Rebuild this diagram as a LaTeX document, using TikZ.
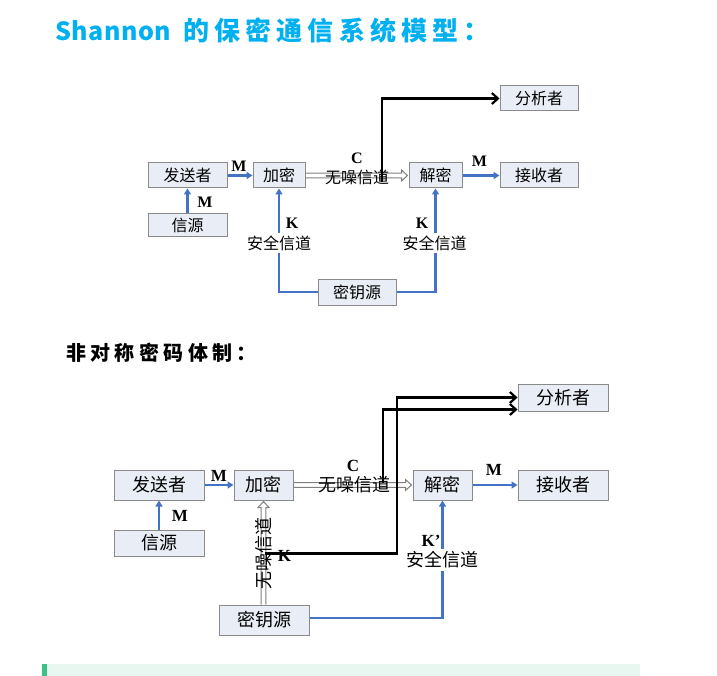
\documentclass[tikz,border=0pt]{standalone}
\usepackage{fontspec}
\setmainfont{Liberation Serif}
\newfontfamily\cjk{Noto Sans CJK SC}
\usetikzlibrary{arrows.meta,calc}
\definecolor{kblue}{HTML}{4472C4}
\definecolor{boxfill}{HTML}{E9EEF6}
\definecolor{boxdraw}{HTML}{8A8A8A}
\definecolor{titleblue}{HTML}{00B0F0}
\definecolor{chancol}{HTML}{808080}
\definecolor{barfill}{HTML}{E9F7F1}
\definecolor{bargreen}{HTML}{3CC08A}
\newcommand\hchan[2]{%
  \draw[chanline] ([yshift=2.4pt]#1.east) -- ([xshift=-7pt,yshift=2.4pt]#2.west) -- ([xshift=-7pt,yshift=5.5pt]#2.west) -- ([xshift=-1pt]#2.west) -- ([xshift=-7pt,yshift=-5.5pt]#2.west) -- ([xshift=-7pt,yshift=-2.4pt]#2.west) -- ([yshift=-2.4pt]#1.east);}
\begin{document}
\begin{tikzpicture}[x=1pt,y=-1pt,
  boxa/.style={draw=boxdraw, fill=boxfill, line width=1pt, inner sep=0pt, font=\cjk\fontsize{16}{16}\selectfont},
  boxb/.style={boxa, font=\cjk\fontsize{18}{18}\selectfont},
  blu/.style={draw=kblue, line width=2.2pt, -{Triangle[length=6pt,width=7pt]}},
  blk/.style={draw=black, line width=2.2pt, -{Straight Barb[length=6pt,width=11pt]}},
  chanline/.style={draw=chancol, line width=1pt},
  lbla/.style={font=\bfseries\fontsize{16}{16}\selectfont, inner sep=0pt},
  lblb/.style={font=\bfseries\fontsize{17}{17}\selectfont, inner sep=0pt},
  cna/.style={font=\cjk\fontsize{16}{16}\selectfont, inner sep=1pt},
  cnb/.style={font=\cjk\fontsize{18}{18}\selectfont, inner sep=1pt},
]
\useasboundingbox (0,0) rectangle (717,676);

% headings
\node[anchor=west, inner sep=0pt, text=titleblue, font=\cjk\bfseries\fontsize{25}{25}\selectfont\addfontfeature{LetterSpace=2}] (title1) at (55,31) {Shannon};
\node[anchor=west, inner sep=0pt, text=titleblue, font=\cjk\bfseries\fontsize{26}{26}\selectfont\addfontfeature{LetterSpace=20}] (title2) at (183,31) {的保密通信系统模型：};
\node[anchor=west, inner sep=0pt, font=\cjk\bfseries\fontsize{20}{20}\selectfont\addfontfeature{LetterSpace=22}] (head2) at (66,353) {非对称密码体制：};

% ===== top diagram =====
\node[boxa, minimum width=79, minimum height=25] (snd1) at (187.5,175.5) {发送者};
\node[boxa, minimum width=79, minimum height=23] (src1) at (187.5,225.5) {信源};
\node[boxa, minimum width=52, minimum height=25] (enc1) at (279,175.5) {加密};
\node[boxa, minimum width=53, minimum height=25] (dec1) at (435.5,175.5) {解密};
\node[boxa, minimum width=78, minimum height=25] (rcv1) at (539,175.5) {接收者};
\node[boxa, minimum width=78, minimum height=25] (ana1) at (539,98.5) {分析者};
\node[boxa, minimum width=78, minimum height=26] (key1) at (357,292) {密钥源};

\draw[blu] (snd1) -- (enc1);
\draw[blu] (src1) -- (snd1);
\draw[blu] (dec1) -- (rcv1);
\draw[blu] (key1.west) -| (enc1.south);
\draw[blu] (key1.east) -| (dec1.south);
\hchan{enc1}{dec1}
\node[lbla] (m1a) at (239,166) {M};
\node[lbla] (m1b) at (205,202.5) {M};
\node[lbla] (m1c) at (479.5,161.5) {M};
\node[lbla] (c1) at (357,158) {C};
\node[cna] (ch1) at (357,177) {无噪信道};
\node[lbla] (k1a) at (292,223.5) {K};
\node[lbla] (k1b) at (422,223.5) {K};
\node[cna, fill=white, inner ysep=3pt] (s1a) at (279,243) {安全信道};
\node[cna, fill=white, inner ysep=3pt] (s1b) at (434.5,243) {安全信道};
\coordinate (t1) at (382,182);
\draw[blk] (t1) |- (ana1.west);

% ===== bottom diagram =====
\node[boxb, minimum width=90, minimum height=30] (snd2) at (159,485) {发送者};
\node[boxb, minimum width=90, minimum height=26] (src2) at (159,543) {信源};
\node[boxb, minimum width=59, minimum height=30] (enc2) at (263.5,485) {加密};
\node[boxb, minimum width=59, minimum height=30] (dec2) at (442.5,485) {解密};
\node[boxb, minimum width=90, minimum height=30] (rcv2) at (563,485) {接收者};
\node[boxb, minimum width=90, minimum height=27] (ana2) at (563,397.5) {分析者};
\node[boxb, minimum width=90, minimum height=30] (key2) at (264,620) {密钥源};

\draw[blu] (snd2) -- (enc2);
\draw[blu] (src2) -- (snd2);
\draw[blu] (dec2) -- (rcv2);
\draw[blu] ([yshift=2pt]key2.east) -| (dec2.south);
\hchan{enc2}{dec2}
\draw[chanline] ([xshift=-2.4pt]enc2.south |- key2.north) -- ([xshift=-2.4pt,yshift=-7pt]enc2.south) -- ([xshift=-5.5pt,yshift=-7pt]enc2.south) -- ([yshift=-1pt]enc2.south) -- ([xshift=5.5pt,yshift=-7pt]enc2.south) -- ([xshift=2.4pt,yshift=-7pt]enc2.south) -- ([xshift=2.4pt]enc2.south |- key2.north);
\node[cnb, rotate=90] (ch2v) at (264,553) {无噪信道};
\node[lblb] (m2a) at (219,476) {M};
\node[lblb] (m2b) at (180,516) {M};
\node[lblb] (m2c) at (494,470) {M};
\node[lblb] (c2) at (353,466) {C};
\node[cnb] (ch2) at (354,485) {无噪信道};
\node[lblb] (k2b) at (431,541) {K’};
\node[cnb, fill=white, inner ysep=3pt] (s2) at (442.5,560) {安全信道};
\coordinate (a1) at (383,483);
\draw[blk] (a1) |- ([yshift=-12pt]ana2.west);
\coordinate (b1) at (265,553.5);
\coordinate (b2) at (397,553.5);
\draw[blk] (b1) -- (b2) |- (ana2.west);
\node[lblb] (k2a) at (284.5,556) {K};

% bottom bar
\fill[barfill] (42,664) rectangle (640,676);
\fill[bargreen] (42,664) rectangle (46.5,676);
\end{tikzpicture}
\end{document}
